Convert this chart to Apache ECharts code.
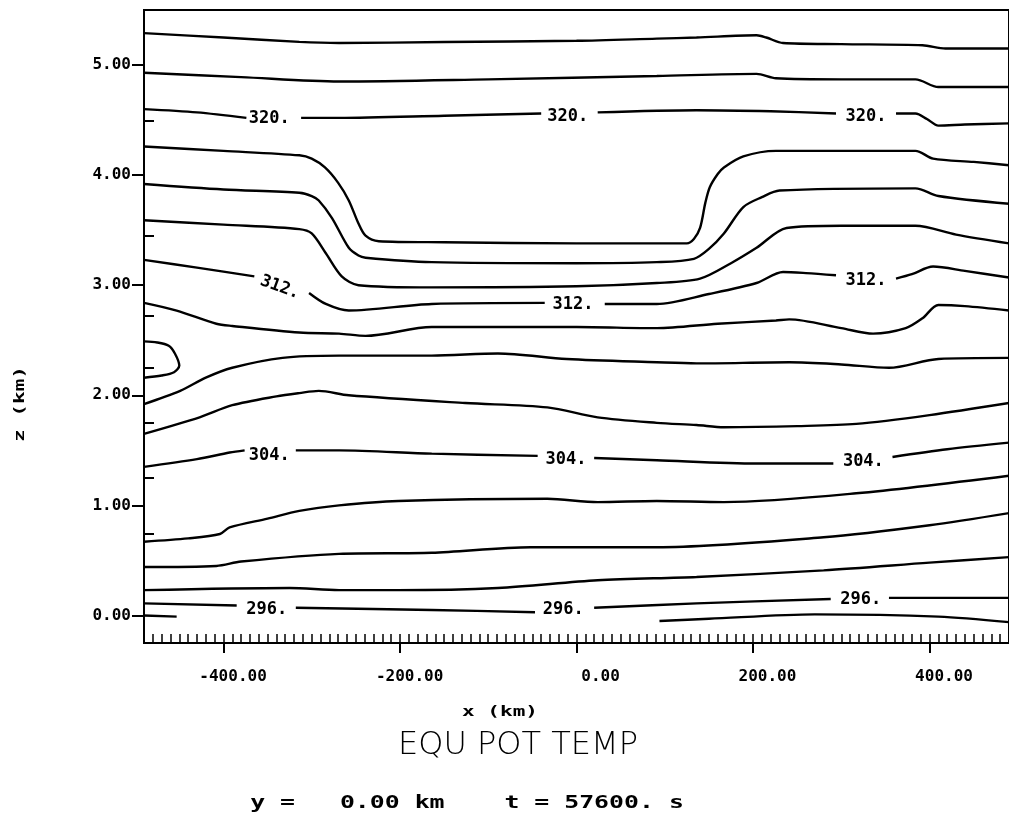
<!DOCTYPE html>
<html>
<head>
<meta charset="utf-8">
<script src="https://cdn.jsdelivr.net/npm/echarts@6/dist/echarts.min.js"></script>
<style>
html, body { margin: 0; padding: 0; background: #fff; }
#chart { width: 1009px; height: 828px; }
</style>
</head>
<body>
<div id="chart"></div>
<script>
// axis ticks / labels
var xMajor = [-400, -200, 0, 200, 400];
var xMajorLabels = ['-400.00', '-200.00', '0.00', '200.00', '400.00'];
var yMajor = [0, 1, 2, 3, 4, 5];
var yMajorLabels = ['0.00', '1.00', '2.00', '3.00', '4.00', '5.00'];
var yMinor = [0.74, 1.25, 1.75, 2.25, 2.72, 3.45, 4.49];
var xMinor = [];
for (var t = -480; t <= 480; t += 10) xMinor.push(t);

// contour lines, [x km, z km], split where a label sits
var c324 = [[[-490,5.29],[-400,5.25],[-314,5.21],[-269,5.20],[-150,5.21],[0,5.22],[91,5.24],[136,5.25],[204,5.27],[215,5.25],[234,5.20],[300,5.19],[392,5.18],[418,5.15],[490,5.15]]];
var c322 = [[[-490,4.93],[-380,4.89],[-269,4.85],[-100,4.87],[91,4.90],[204,4.92],[226,4.88],[300,4.87],[384,4.87],[410,4.80],[490,4.80]]];
var c320 = [
  [[-490,4.60],[-430,4.57],[-374,4.52]],
  [[-312,4.52],[-269,4.52],[-150,4.54],[-40,4.56]],
  [[24,4.57],[136,4.59],[220,4.58],[294,4.56]],
  [[362,4.56],[384,4.56],[397,4.51],[410,4.45],[440,4.46],[490,4.47]]
];
var c318 = [[[-490,4.26],[-400,4.22],[-314,4.18],[-300,4.15],[-285,4.07],[-270,3.93],[-258,3.77],[-247,3.56],[-239,3.45],[-224,3.40],[-150,3.39],[0,3.38],[125,3.38],[133,3.42],[140,3.52],[146,3.75],[151,3.89],[160,4.01],[167,4.07],[189,4.17],[226,4.22],[384,4.22],[404,4.15],[450,4.12],[490,4.09]]];
var c316 = [[[-490,3.92],[-400,3.87],[-314,3.84],[-300,3.81],[-292,3.77],[-277,3.61],[-258,3.34],[-247,3.27],[-239,3.25],[-164,3.21],[0,3.20],[91,3.21],[133,3.24],[150,3.33],[167,3.47],[189,3.71],[210,3.80],[230,3.86],[384,3.88],[410,3.81],[490,3.74]]];
var c314 = [[[-490,3.59],[-400,3.55],[-314,3.51],[-300,3.47],[-284,3.29],[-266,3.08],[-247,3.00],[-164,2.98],[0,2.99],[91,3.02],[140,3.06],[175,3.20],[204,3.34],[238,3.52],[300,3.54],[384,3.54],[430,3.46],[490,3.38]]];
var c312 = [
  [[-490,3.23],[-430,3.16],[-365,3.08]],
  [[-303,2.93],[-284,2.83],[-258,2.77],[-164,2.83],[-36,2.84]],
  [[32,2.83],[91,2.83],[150,2.92],[204,3.02],[234,3.12],[260,3.11],[294,3.09]],
  [[362,3.06],[380,3.10],[404,3.17],[440,3.13],[490,3.07]]
];
var c310 = [[[-490,2.84],[-453,2.77],[-408,2.65],[-390,2.63],[-314,2.57],[-269,2.56],[-239,2.54],[-164,2.62],[0,2.62],[91,2.61],[160,2.65],[226,2.68],[241,2.69],[300,2.61],[336,2.56],[373,2.61],[392,2.70],[410,2.82],[440,2.81],[490,2.77]]];
var cLoop = [[[-490,2.49],[-475,2.48],[-462,2.45],[-455,2.38],[-450,2.27],[-456,2.21],[-470,2.18],[-490,2.16]]];
var c308 = [[[-490,1.92],[-449,2.04],[-420,2.16],[-390,2.25],[-333,2.34],[-269,2.36],[-164,2.36],[-89,2.38],[-11,2.33],[91,2.30],[136,2.29],[241,2.30],[300,2.28],[354,2.25],[410,2.33],[490,2.34]]];
var c306 = [[[-490,1.65],[-427,1.80],[-390,1.91],[-340,1.99],[-314,2.02],[-292,2.04],[-258,2.00],[-126,1.93],[-33,1.89],[24,1.80],[91,1.75],[136,1.73],[167,1.71],[250,1.72],[317,1.74],[400,1.82],[490,1.93]]];
var c304 = [
  [[-490,1.35],[-430,1.42],[-393,1.48],[-376,1.50]],
  [[-318,1.50],[-269,1.50],[-164,1.47],[-44,1.45]],
  [[20,1.43],[91,1.41],[204,1.38],[291,1.38]],
  [[358,1.44],[420,1.51],[490,1.57]]
];
var c302 = [[[-490,0.67],[-440,0.70],[-404,0.74],[-393,0.80],[-350,0.88],[-314,0.95],[-269,1.00],[-202,1.04],[-33,1.06],[24,1.03],[91,1.04],[167,1.03],[317,1.11],[490,1.27]]];
var c300 = [[[-490,0.44],[-408,0.45],[-380,0.49],[-269,0.56],[-164,0.57],[-52,0.62],[91,0.62],[280,0.71],[400,0.82],[490,0.93]]];
var c298 = [[[-490,0.23],[-325,0.25],[-269,0.23],[-202,0.23],[-89,0.25],[24,0.32],[136,0.35],[280,0.41],[400,0.48],[490,0.53]]];
var c296 = [
  [[-490,0.11],[-385,0.09]],
  [[-318,0.07],[-164,0.05],[-47,0.03]],
  [[20,0.07],[136,0.11],[288,0.15]],
  [[354,0.16],[490,0.16]]
];
var c294 = [
  [[-490,0.00],[-453,-0.01]],
  [[94,-0.05],[150,-0.03],[270,0.01],[410,-0.01],[490,-0.06]]
];

// contour labels
var labelText = ['320.', '320.', '320.', '312.', '312.', '312.', '304.', '304.', '304.', '296.', '296.', '296.'];
var labelX    = [-348, -10, 328, -336, -4, 328, -348, -12, 325, -351, -15, 322];
var labelZ    = [4.51, 4.53, 4.53, 2.98, 2.82, 3.04, 1.45, 1.42, 1.40, 0.05, 0.05, 0.14];
var labelRot  = [0, 0, 0, -20, 0, 0, 0, 0, 0, 0, 0, 0];

var MONO = 'DejaVu Sans Mono';

var myChart = echarts.init(document.getElementById('chart'));

var series = [];
[c324, c322, c320, c318, c316, c314, c312, c310, cLoop, c308, c306, c304, c302, c300, c298, c296, c294].forEach(function (segs) {
  segs.forEach(function (seg) {
    series.push({
      type: 'line',
      data: seg,
      showSymbol: false,
      smooth: 0.3,
      silent: true,
      lineStyle: { color: '#000', width: 2.4 }
    });
  });
});
series.push({
  type: 'scatter',
  symbolSize: 1,
  itemStyle: { color: 'rgba(0,0,0,0)' },
  silent: true,
  data: labelX.map(function (x, i) {
    return { value: [x, labelZ[i]], label: { rotate: labelRot[i] } };
  }),
  label: {
    show: true,
    position: 'inside',
    formatter: function (p) { return labelText[p.dataIndex]; },
    color: '#000',
    opacity: 1,
    fontFamily: MONO,
    fontWeight: 'bold',
    fontSize: 17
  }
});

var option = {
  animation: false,
  backgroundColor: '#fff',
  grid: {
    left: 144, top: 10, width: 870, height: 633,
    show: true, borderColor: '#000', borderWidth: 2
  },
  xAxis: [{
    type: 'value', min: -490, max: 490, position: 'bottom',
    axisLine: { show: false, onZero: false },
    splitLine: { show: false },
    axisTick: { customValues: xMajor, length: 10, lineStyle: { color: '#000', width: 2 } },
    axisLabel: {
      customValues: xMajor,
      formatter: function (v) {
        var s = xMajorLabels[xMajor.indexOf(v)];
        while (s.length < 9) s = ' ' + s;
        return s;
      },
      margin: 26, color: '#000', fontFamily: MONO, fontWeight: 'bold', fontSize: 16
    }
  }, {
    type: 'value', min: -490, max: 490, position: 'bottom',
    axisLine: { show: false, onZero: false },
    splitLine: { show: false },
    axisTick: { customValues: xMinor, inside: true, length: 9, lineStyle: { color: '#000', width: 1.5 } },
    axisLabel: { show: false }
  }],
  yAxis: [{
    type: 'value', min: -0.25, max: 5.5, position: 'left',
    axisLine: { show: false, onZero: false },
    splitLine: { show: false },
    axisTick: { customValues: yMajor, length: 12, lineStyle: { color: '#000', width: 2 } },
    axisLabel: {
      customValues: yMajor,
      formatter: function (v) { return yMajorLabels[yMajor.indexOf(v)]; },
      margin: 13, color: '#000', fontFamily: MONO, fontWeight: 'bold', fontSize: 16
    }
  }, {
    type: 'value', min: -0.25, max: 5.5, position: 'left',
    axisLine: { show: false, onZero: false },
    splitLine: { show: false },
    axisTick: { customValues: yMinor, inside: true, length: 10, lineStyle: { color: '#000', width: 2 } },
    axisLabel: { show: false }
  }],
  graphic: [{
    type: 'text', x: 20, y: 404, rotation: Math.PI / 2, scaleX: 1.5,
    style: { text: 'z (km)', fill: '#000', font: 'bold 14px "DejaVu Sans Mono"', align: 'center', verticalAlign: 'middle' }
  }, {
    type: 'text', x: 500, y: 712, scaleX: 1.5,
    style: { text: 'x (km)', fill: '#000', font: 'bold 14px "DejaVu Sans Mono"', align: 'center', verticalAlign: 'middle' }
  }, {
    type: 'text', x: 518, y: 746,
    style: { text: 'EQU POT TEMP', fill: '#000', font: '200 32px "DejaVu Sans"', align: 'center', verticalAlign: 'middle' }
  }, {
    type: 'text', x: 467, y: 803, scaleX: 1.38,
    style: { text: 'y =   0.00 km    t = 57600. s', fill: '#000', font: 'bold 18px "DejaVu Sans Mono"', align: 'center', verticalAlign: 'middle' }
  }],
  series: series
};
myChart.setOption(option);
</script>
</body>
</html>
